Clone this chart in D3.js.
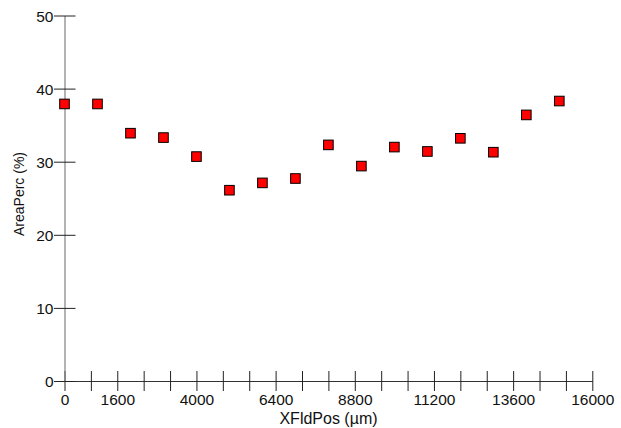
<!DOCTYPE html>
<html>
<head>
<meta charset="utf-8">
<script src="https://cdn.jsdelivr.net/npm/d3@7"></script>
<style>
  html, body { margin: 0; padding: 0; background: #fff; }
  svg { display: block; font-family: "Liberation Sans", Arial, sans-serif; }
</style>
</head>
<body>
<svg id="chart" width="621" height="428"></svg>
<script>
// Data
const xPositions = [0, 1000, 2000, 3000, 4000, 5000, 6000, 7000, 8000, 9000, 10000, 11000, 12000, 13000, 14000, 15000];
const areaPerc = [37.9, 37.9, 33.9, 33.3, 30.7, 26.1, 27.1, 27.7, 32.3, 29.4, 32.0, 31.4, 33.2, 31.3, 36.4, 38.3];
const xTickValues = d3.range(0, 16001, 800);
const xTickLabels = [0, 1600, 4000, 6400, 8800, 11200, 13600, 16000];
const yTickValues = [0, 10, 20, 30, 40, 50];
const xTitle = "XFldPos (µm)";
const yTitle = "AreaPerc (%)";

const svg = d3.select("#chart");
const x = d3.scaleLinear().domain([0, 16000]).range([64.5, 592.3]);
const y = d3.scaleLinear().domain([0, 50]).range([381, 15.5]);

// X axis
const xAxis = svg.append("g")
  .attr("transform", `translate(0,${y(0)})`)
  .call(d3.axisBottom(x)
    .tickValues(xTickValues)
    .tickSizeOuter(0)
    .tickFormat(d => xTickLabels.includes(d) ? String(d) : ""));
xAxis.select(".domain").attr("stroke", "#333").attr("stroke-width", 1);
xAxis.selectAll(".tick line").attr("y1", -10).attr("y2", 10).attr("stroke", "#222");
xAxis.selectAll(".tick text")
  .attr("y", 24).attr("dy", 0)
  .attr("font-size", 15.5).attr("fill", "#111")
  .attr("font-family", "Liberation Sans, Arial, sans-serif");

// Y axis
const yAxis = svg.append("g")
  .attr("transform", `translate(${x(0)},0)`)
  .call(d3.axisLeft(y)
    .tickValues(yTickValues)
    .tickSizeOuter(0)
    .tickFormat(d3.format("d")));
yAxis.select(".domain").attr("stroke", "#808080").attr("stroke-width", 1.2);
yAxis.selectAll(".tick line").attr("x1", 11).attr("x2", -10.5).attr("stroke", "#222");
yAxis.selectAll(".tick text")
  .attr("x", -11).attr("dy", "0.36em")
  .attr("font-size", 15.5).attr("fill", "#111")
  .attr("font-family", "Liberation Sans, Arial, sans-serif");

// Axis titles
svg.append("text")
  .attr("x", 328.5).attr("y", 423.5)
  .attr("text-anchor", "middle")
  .attr("font-size", 16).attr("fill", "#111")
  .text(xTitle);

svg.append("text")
  .attr("transform", `translate(23.5,194) rotate(-90)`)
  .attr("text-anchor", "middle")
  .attr("font-size", 14).attr("fill", "#111")
  .text(yTitle);

// Markers
const s = 9.6;
svg.append("g")
  .selectAll("rect")
  .data(xPositions.map((d, i) => ({ x: d, y: areaPerc[i] })))
  .join("rect")
  .attr("x", d => x(d.x) - s / 2)
  .attr("y", d => y(d.y) - s / 2)
  .attr("width", s)
  .attr("height", s)
  .attr("fill", "#ff0000")
  .attr("stroke", "#000")
  .attr("stroke-width", 1);
</script>
</body>
</html>
